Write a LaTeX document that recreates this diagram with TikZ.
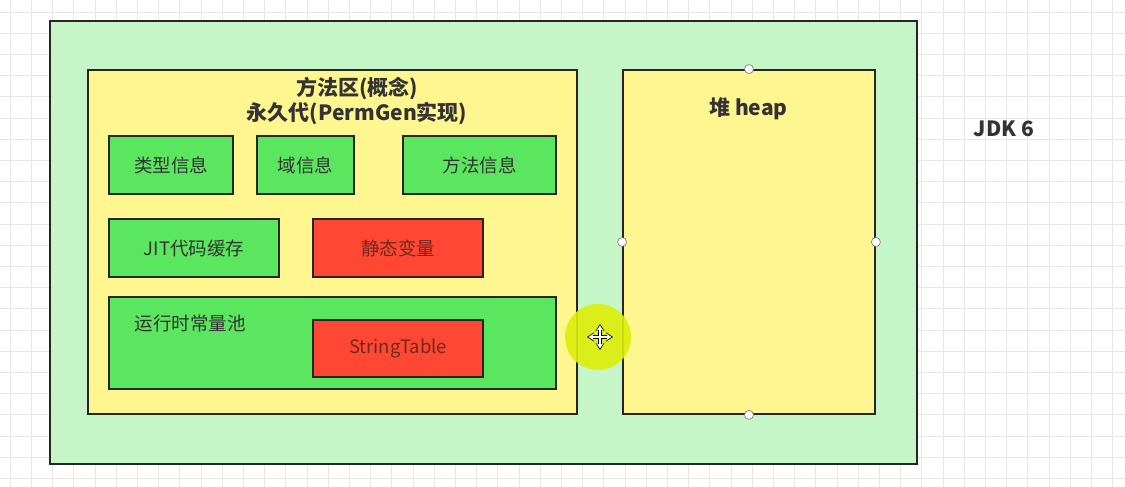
\documentclass[tikz,border=0pt]{standalone}
\usepackage{fontspec}
\setmainfont{Noto Sans CJK SC}
\usetikzlibrary{arrows.meta}
\definecolor{outerg}{HTML}{C6F5C8}
\definecolor{ylw}{HTML}{FFF68F}
\definecolor{grn}{HTML}{5AE65E}
\definecolor{rd}{HTML}{FF4733}
\definecolor{txt}{HTML}{333333}
\definecolor{rtxt}{HTML}{6E2A1E}
\definecolor{gridc}{HTML}{E6E6E6}
\definecolor{hl}{HTML}{DDEE08}
\tikzset{
  frame/.style={draw=black!85, line width=1.8pt, inner sep=0pt},
  gbox/.style={frame, fill=grn, text=txt, font=\fontsize{18.5}{20}\selectfont},
  rbox/.style={frame, fill=rd, text=rtxt, font=\fontsize{18.5}{20}\selectfont},
  handle/.style={circle, draw=black!55, fill=white, line width=0.6pt, minimum size=9pt, inner sep=0pt},
  ttl/.style={text=txt, font=\bfseries\fontsize{21}{24}\selectfont, inner sep=0pt},
}
\begin{document}
\begin{tikzpicture}[x=1pt,y=-1pt]
\useasboundingbox (0,0) rectangle (1125,487);
\fill[white] (0,0) rectangle (1125,487);
% grid
\foreach \i in {0,...,53} {\draw[gridc, line width=0.9pt] ({10.2+21.2*\i},0) -- ({10.2+21.2*\i},487);}
\foreach \j in {0,...,22} {\draw[gridc, line width=0.9pt] (0,{12+21.2*\j}) -- (1125,{12+21.2*\j});}
% outer container
\node[frame, fill=outerg, minimum width=867pt, minimum height=443pt] (outer) at (483.5,242.5) {};
% method area
\node[frame, fill=ylw, minimum width=489pt, minimum height=344pt] (method) at (332.5,242) {};
\node[ttl] (t1) at (357,88) {方法区(概念)};
\node[ttl] (t2) at (357,114) {永久代(PermGen实现)};
% row 1
\node[gbox, minimum width=124pt, minimum height=58pt] (type) at (171,165) {类型信息};
\node[gbox, minimum width=97pt, minimum height=58pt] (field) at (305.5,165) {域信息};
\node[gbox, minimum width=153pt, minimum height=58pt] (meth) at (479.5,165) {方法信息};
% row 2
\node[gbox, minimum width=170pt, minimum height=58pt] (jit) at (194,248) {JIT代码缓存};
\node[rbox, minimum width=170pt, minimum height=58pt] (static) at (398,248) {静态变量};
% runtime pool
\node[gbox, minimum width=447pt, minimum height=92pt] (pool) at (332.5,343) {};
\node[text=txt, font=\fontsize{18.5}{20}\selectfont, inner sep=0pt] (poollbl) at (190,323) {运行时常量池};
\node[rbox, minimum width=170pt, minimum height=57pt] (st) at (398,348.5) {StringTable};
% heap
\node[frame, fill=ylw, minimum width=252pt, minimum height=344pt] (heap) at (749,242) {};
\node[ttl] (heaplbl) at (748.5,109) {堆 heap};
\node[handle] (h1) at (heap.north) {};
\node[handle] (h2) at (heap.west) {};
\node[handle] (h3) at (heap.east) {};
\node[handle] (h4) at (heap.south) {};
% JDK label
\node[text=txt, font=\bfseries\fontsize{21}{24}\selectfont, inner sep=0pt] (jdk) at (1004,129) {JDK 6};
% cursor highlight
\fill[hl, opacity=0.9] (598,337) circle (33pt);
\coordinate (cc) at (600,337);
\foreach \a in {0,90,180,270} {
  \draw[black, line width=3.2pt, -{Stealth[length=7pt,width=9pt]}] (cc) -- ++(\a:13pt);
}
\foreach \a in {0,90,180,270} {
  \draw[white, line width=1.4pt, -{Stealth[length=5pt,width=6.5pt]}] (cc) -- ++(\a:11.5pt);
}
\end{tikzpicture}
\end{document}
